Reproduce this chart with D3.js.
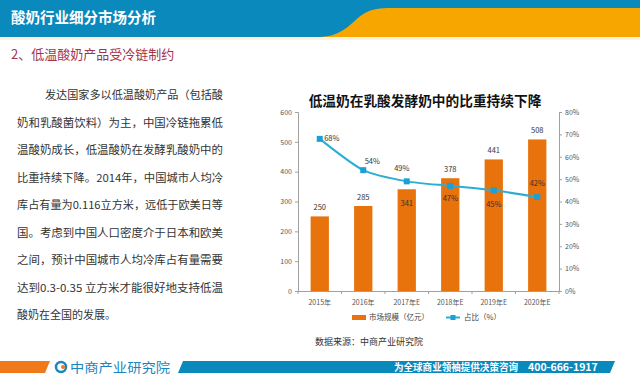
<!DOCTYPE html>
<html>
<head>
<meta charset="utf-8">
<script src="https://cdn.jsdelivr.net/npm/d3@7/dist/d3.min.js"></script>
<style>
body{margin:0;background:#fff;}
svg{display:block;font-family:"Noto Sans CJK SC","Noto Sans",sans-serif;}
</style>
</head>
<body>
<script>
// chart data
var years = ["2015年","2016年","2017年E","2018年E","2019年E","2020年E"];
var market = [250, 285, 341, 378, 441, 508];
var share = [68, 54, 49, 47, 45, 42];
var leftTicks = [0,100,200,300,400,500,600];
var rightTicks = [0,10,20,30,40,50,60,70,80];

var paragraph = [
  "发达国家多以低温酸奶产品（包括酸",
  "奶和乳酸菌饮料）为主，中国冷链拖累低",
  "温酸奶成长，低温酸奶在发酵乳酸奶中的",
  "比重持续下降。2014年，中国城市人均冷",
  "库占有量为0.116立方米，远低于欧美日等",
  "国。考虑到中国人口密度介于日本和欧美",
  "之间，预计中国城市人均冷库占有量需要",
  "达到0.3-0.35 立方米才能很好地支持低温",
  "酸奶在全国的发展。"
];

var width = 640, height = 379;
var svg = d3.select("body").append("svg")
    .attr("width", width)
    .attr("height", height);

// header
svg.append("rect").attr("x",0).attr("y",0).attr("width",width).attr("height",37).style("fill","#0a89bd");
svg.append("path")
    .attr("d","M318,37 C345,37 352,20 365,13 C372,9 380,8 392,8 L640,8 L640,37 Z")
    .style("fill","#f7a600");
svg.append("rect").attr("x",0).attr("y",37).attr("width",width).attr("height",3).style("fill","#fdf3dc");
svg.append("text").attr("x",11).attr("y",23)
    .style("font-size","14.5px").style("font-weight","bold").style("fill","#fff")
    .text("酸奶行业细分市场分析");
svg.append("text").attr("x",11).attr("y",59)
    .style("font-size","13px").style("fill","#a2344c")
    .text("2、低温酸奶产品受冷链制约");

// paragraph
svg.selectAll(".para").data(paragraph).enter().append("text")
    .attr("class","para")
    .attr("x", function(d,i){ return i==0 ? 45 : 17; })
    .attr("y", function(d,i){ return 99 + i*27.5; })
    .attr("textLength", function(d,i){ return i==paragraph.length-1 ? null : (i==0 ? 178 : 206); })
    .attr("lengthAdjust","spacingAndGlyphs")
    .style("font-size","11px").style("fill","#333")
    .text(function(d){ return d; });

// chart
var plot = {left:298, right:559, top:112, bottom:291};

var x = d3.scaleBand().domain(years).range([plot.left, plot.right]).paddingInner(0.58).paddingOuter(0.29);
var y = d3.scaleLinear().domain([0,600]).range([plot.bottom, plot.top]);
var y2 = d3.scaleLinear().domain([0,80]).range([plot.bottom, plot.top]);

svg.append("text").attr("x",425).attr("y",106).attr("text-anchor","middle")
    .style("font-size","13.7px").style("font-weight","bold").style("fill","#111")
    .text("低温奶在乳酸发酵奶中的比重持续下降");

var axisColor = "#a0a0a0";
var gl = svg.append("g").attr("transform","translate("+plot.left+",0)")
    .call(d3.axisLeft(y).tickValues(leftTicks).tickSize(3).tickPadding(3));
var gr = svg.append("g").attr("transform","translate("+plot.right+",0)")
    .call(d3.axisRight(y2).tickValues(rightTicks).tickSize(3).tickPadding(3).tickFormat(function(d){return d+"%";}));
var gx = svg.append("g").attr("transform","translate(0,"+plot.bottom+")")
    .call(d3.axisBottom(x).tickSize(0).tickPadding(9));
// ticks between categories
gx.selectAll(".sep").data(d3.range(years.length+1)).enter().append("line")
    .attr("x1",function(i){return plot.left + i*(plot.right-plot.left)/years.length;})
    .attr("x2",function(i){return plot.left + i*(plot.right-plot.left)/years.length;})
    .attr("y1",0).attr("y2",3).style("stroke",axisColor);

[gl,gr,gx].forEach(function(g){
  g.selectAll("path,line").style("stroke",axisColor);
  g.selectAll("text").style("font-size","7px").style("fill","#555").style("font-family","'Noto Sans CJK SC',sans-serif");
  g.select(".domain").style("stroke",axisColor);
});

var barColor = "#e8720c", lineColor = "#2aaed3", markColor = "#1a9fd6";

svg.selectAll(".bar").data(market).enter().append("rect")
    .attr("class","bar")
    .attr("x",function(d,i){return x(years[i]);})
    .attr("width",x.bandwidth())
    .attr("y",function(d){return y(d);})
    .attr("height",function(d){return plot.bottom - y(d);})
    .style("fill",barColor);

var cx = function(i){ return x(years[i]) + x.bandwidth()/2; };

var line = d3.line()
    .x(function(d,i){return cx(i);})
    .y(function(d){return y2(d);})
    .curve(d3.curveCardinal.tension(0.3));

svg.append("path").datum(share)
    .attr("d",line)
    .style("fill","none").style("stroke",lineColor).style("stroke-width",2);

svg.selectAll(".mk").data(share).enter().append("rect")
    .attr("class","mk")
    .attr("x",function(d,i){return cx(i)-3;})
    .attr("y",function(d){return y2(d)-3;})
    .attr("width",6).attr("height",6)
    .style("fill",markColor);

// bar labels (offsets relative to bar top)
var barLabelDy = [-6,-6,17,-6,-6,-6];
svg.selectAll(".bl").data(market).enter().append("text")
    .attr("x",function(d,i){return cx(i);})
    .attr("y",function(d,i){return y(d)+barLabelDy[i];})
    .attr("text-anchor","middle")
    .style("font-size","7.5px").style("fill","#333")
    .text(function(d){return d;});

// share labels (offsets relative to marker)
var shareDx = [12,9,-5,0,0,0];
var shareDy = [2,-6,-10,15,17,-11];
svg.selectAll(".sl").data(share).enter().append("text")
    .attr("x",function(d,i){return cx(i)+shareDx[i];})
    .attr("y",function(d,i){return y2(d)+shareDy[i];})
    .attr("text-anchor","middle")
    .style("font-size","7.5px").style("fill","#333")
    .text(function(d){return d+"%";});

// legend
var lg = svg.append("g");
lg.append("rect").attr("x",352).attr("y",315).attr("width",14).attr("height",5).style("fill",barColor);
lg.append("text").attr("x",369).attr("y",320).style("font-size","7.5px").style("fill","#444").text("市场规模（亿元）");
lg.append("line").attr("x1",446).attr("x2",460).attr("y1",317.5).attr("y2",317.5).style("stroke",lineColor).style("stroke-width",2);
lg.append("rect").attr("x",450.5).attr("y",315).attr("width",5).attr("height",5).style("fill",markColor);
lg.append("text").attr("x",464).attr("y",320).style("font-size","7.5px").style("fill","#444").text("占比（%）");

svg.append("text").attr("x",315).attr("y",345)
    .style("font-size","9px").style("fill","#333")
    .text("数据来源：中商产业研究院");

// footer
svg.append("path").attr("d","M0,361 L50,361 L45,373 L0,373 Z").style("fill","#ee7a1a");
svg.append("path").attr("d","M183,361 L615,361 L610,373 L178,373 Z").style("fill","#0a89bd");
svg.append("circle").attr("cx",61).attr("cy",367).attr("r",5).style("fill","none").style("stroke","#1a86c0").style("stroke-width",2.5);
svg.append("circle").attr("cx",63).attr("cy",367).attr("r",2).style("fill","#ee7a1a");
svg.append("text").attr("x",70).attr("y",372)
    .style("font-size","13px").style("fill","#1a86c0")
    .attr("textLength",100).attr("lengthAdjust","spacingAndGlyphs")
    .text("中商产业研究院");
svg.append("text").attr("x",394).attr("y",371)
    .style("font-size","10px").style("font-weight","bold").style("fill","#fff")
    .attr("textLength",124).attr("lengthAdjust","spacingAndGlyphs")
    .text("为全球商业领袖提供决策咨询");
svg.append("text").attr("x",528).attr("y",371)
    .style("font-size","10.5px").style("font-weight","bold").style("fill","#fff")
    .text("400-666-1917");
</script>
</body>
</html>
